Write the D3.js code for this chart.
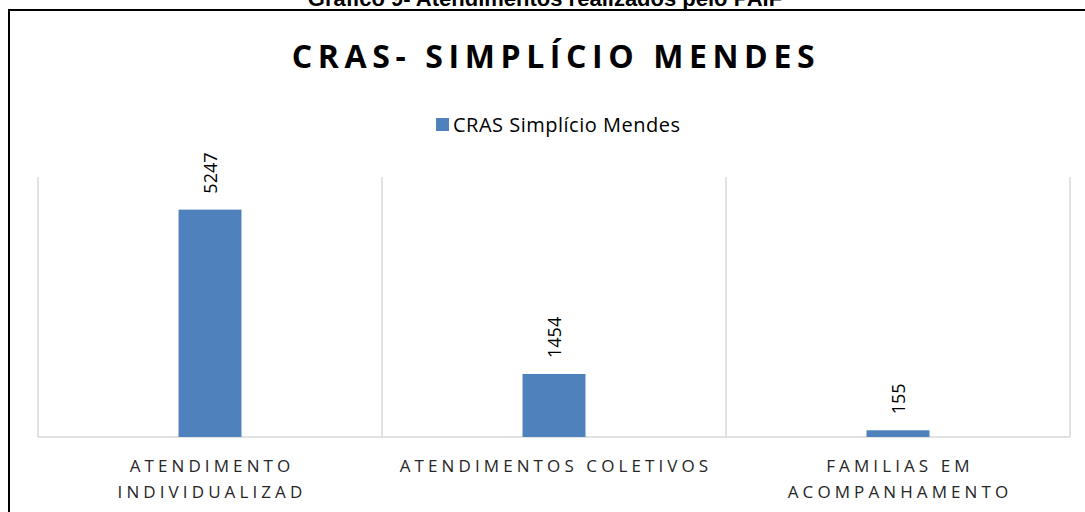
<!DOCTYPE html>
<html>
<head>
<meta charset="utf-8">
<script src="https://cdn.jsdelivr.net/npm/d3@7"></script>
<style>
  html, body { margin: 0; padding: 0; background: #fff; }
  svg { display: block; }
</style>
</head>
<body>
<div id="chart"></div>
<script>
// data
const categories = ["ATENDIMENTO INDIVIDUALIZAD", "ATENDIMENTOS COLETIVOS", "FAMILIAS EM ACOMPANHAMENTO"];
const labelLines = [["ATENDIMENTO", "INDIVIDUALIZAD"], ["ATENDIMENTOS COLETIVOS"], ["FAMILIAS EM", "ACOMPANHAMENTO"]];
const values = [5247, 1454, 155];
const seriesName = "CRAS Simplício Mendes";
const chartTitle = "CRAS- SIMPLÍCIO MENDES";
const caption = "Gráfico 9- Atendimentos realizados pelo PAIF";

const width = 1085, height = 512;
const margin = { top: 177, right: 15, bottom: 75, left: 38 };
const plotW = width - margin.left - margin.right;
const plotH = height - margin.top - margin.bottom;
const barColor = "#4f81bd";
const gridColor = "#d9d9d9";
const font = "'Open Sans', sans-serif";

const svg = d3.select("#chart").append("svg")
  .attr("width", width)
  .attr("height", height);

// caption above the frame (cut off at the top in the original too)
svg.append("text")
  .attr("x", 545).attr("y", 6)
  .attr("text-anchor", "middle")
  .attr("font-family", "'Liberation Sans', Arial, sans-serif")
  .attr("font-weight", "bold")
  .attr("font-size", 22)
  .attr("fill", "#000")
  .text(caption);

// outer frame
svg.append("path")
  .attr("d", `M9,${height + 2}V10H${width + 2}`)
  .attr("fill", "none")
  .attr("stroke", "#000")
  .attr("stroke-width", 2);

// title
svg.append("text")
  .attr("x", 556).attr("y", 68)
  .attr("text-anchor", "middle")
  .attr("font-family", font)
  .attr("font-weight", "bold")
  .attr("font-size", 32)
  .attr("letter-spacing", 5.6)
  .attr("fill", "#000")
  .text(chartTitle);

// legend
const lg = svg.append("g").attr("transform", "translate(436,118)");
lg.append("rect").attr("width", 13).attr("height", 13).attr("fill", barColor);
lg.append("text")
  .attr("x", 17).attr("y", 14)
  .attr("font-family", font)
  .attr("font-size", 20)
  .attr("letter-spacing", 0.5)
  .attr("fill", "#000")
  .text(seriesName);

const g = svg.append("g").attr("transform", `translate(${margin.left},${margin.top})`);

const x = d3.scaleBand().domain(categories).range([0, plotW]).paddingInner(0).paddingOuter(0);
const y = d3.scaleLinear().domain([0, 6000]).range([plotH, 0]);

// vertical gridlines between categories
const edges = categories.map(c => x(c)).concat([plotW]);
g.selectAll(".vgrid").data(edges).join("line")
  .attr("class", "vgrid")
  .attr("x1", d => d).attr("x2", d => d)
  .attr("y1", 0).attr("y2", plotH)
  .attr("stroke", gridColor)
  .attr("stroke-width", 1.5);

// baseline
g.append("line")
  .attr("x1", 0).attr("x2", plotW)
  .attr("y1", y(0)).attr("y2", y(0))
  .attr("stroke", gridColor)
  .attr("stroke-width", 1.5);

const barW = x.bandwidth() * 0.183;

g.selectAll(".bar").data(values).join("rect")
  .attr("class", "bar")
  .attr("x", (d, i) => x(categories[i]) + (x.bandwidth() - barW) / 2)
  .attr("y", d => y(d))
  .attr("width", barW)
  .attr("height", d => y(0) - y(d))
  .attr("fill", barColor);

// rotated value labels
g.selectAll(".val").data(values).join("text")
  .attr("class", "val")
  .attr("transform", (d, i) => `translate(${x(categories[i]) + x.bandwidth() / 2 + 7},${y(d) - 16}) rotate(-90)`)
  .attr("font-family", font)
  .attr("font-size", 18)
  .attr("fill", "#000")
  .text(d => d);

// category labels
g.selectAll(".cat").data(labelLines).join("text")
  .attr("class", "cat")
  .attr("text-anchor", "middle")
  .attr("font-family", font)
  .attr("font-size", 17)
  .attr("letter-spacing", 4.1)
  .attr("fill", "#262626")
  .each(function (lines, i) {
    const t = d3.select(this);
    lines.forEach((ln, j) => {
      t.append("tspan")
        .attr("x", x(categories[i]) + x.bandwidth() / 2 + 2)
        .attr("y", plotH + 35 + j * 26)
        .text(ln);
    });
  });
</script>
</body>
</html>
